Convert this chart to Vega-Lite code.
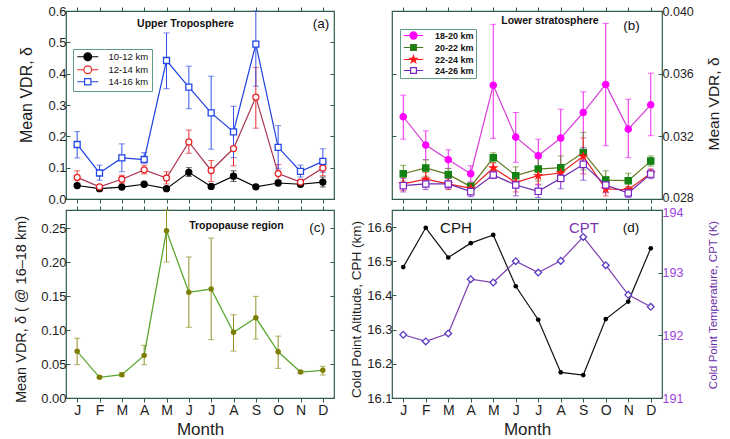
{
  "$schema": "https://vega.github.io/schema/vega-lite/v6.json",
  "background": "white",
  "padding": {"left": 12, "top": 4, "right": 4, "bottom": 2},
  "config": {
    "font": "Liberation Sans",
    "view": {"stroke": "#2f5d4a", "strokeWidth": 1.2},
    "axis": {"domain": false, "grid": false, "tickColor": "#2f5d4a", "tickWidth": 1, "labelColor": "#1e1e1e", "titleColor": "#1e1e1e", "titleFontWeight": "normal", "labelFont": "Liberation Sans", "titleFont": "Liberation Sans"},
    "text": {"font": "Liberation Sans"}
  },
  "datasets": {
    "ut": [
      {"m":1,"s":"10-12 km","v":0.043,"lo":0.038,"hi":0.048},
      {"m":2,"s":"10-12 km","v":0.033,"lo":0.029,"hi":0.037},
      {"m":3,"s":"10-12 km","v":0.038,"lo":0.034,"hi":0.042},
      {"m":4,"s":"10-12 km","v":0.047,"lo":0.042,"hi":0.052},
      {"m":5,"s":"10-12 km","v":0.033,"lo":0.029,"hi":0.037},
      {"m":6,"s":"10-12 km","v":0.085,"lo":0.072,"hi":0.100},
      {"m":7,"s":"10-12 km","v":0.040,"lo":0.035,"hi":0.045},
      {"m":8,"s":"10-12 km","v":0.073,"lo":0.056,"hi":0.090},
      {"m":9,"s":"10-12 km","v":0.039,"lo":0.035,"hi":0.043},
      {"m":10,"s":"10-12 km","v":0.051,"lo":0.044,"hi":0.060},
      {"m":11,"s":"10-12 km","v":0.047,"lo":0.042,"hi":0.052},
      {"m":12,"s":"10-12 km","v":0.054,"lo":0.038,"hi":0.070},
      {"m":1,"s":"12-14 km","v":0.069,"lo":0.050,"hi":0.090},
      {"m":2,"s":"12-14 km","v":0.039,"lo":0.035,"hi":0.043},
      {"m":3,"s":"12-14 km","v":0.063,"lo":0.050,"hi":0.076},
      {"m":4,"s":"12-14 km","v":0.093,"lo":0.080,"hi":0.108},
      {"m":5,"s":"12-14 km","v":0.067,"lo":0.048,"hi":0.087},
      {"m":6,"s":"12-14 km","v":0.182,"lo":0.146,"hi":0.220},
      {"m":7,"s":"12-14 km","v":0.091,"lo":0.056,"hi":0.123},
      {"m":8,"s":"12-14 km","v":0.161,"lo":0.106,"hi":0.216},
      {"m":9,"s":"12-14 km","v":0.325,"lo":0.226,"hi":0.420},
      {"m":10,"s":"12-14 km","v":0.081,"lo":0.058,"hi":0.110},
      {"m":11,"s":"12-14 km","v":0.054,"lo":0.046,"hi":0.062},
      {"m":12,"s":"12-14 km","v":0.099,"lo":0.074,"hi":0.126},
      {"m":1,"s":"14-16 km","v":0.174,"lo":0.131,"hi":0.215},
      {"m":2,"s":"14-16 km","v":0.083,"lo":0.060,"hi":0.108},
      {"m":3,"s":"14-16 km","v":0.131,"lo":0.087,"hi":0.176},
      {"m":4,"s":"14-16 km","v":0.126,"lo":0.115,"hi":0.148},
      {"m":5,"s":"14-16 km","v":0.442,"lo":0.352,"hi":0.530},
      {"m":6,"s":"14-16 km","v":0.357,"lo":0.288,"hi":0.424},
      {"m":7,"s":"14-16 km","v":0.275,"lo":0.159,"hi":0.392},
      {"m":8,"s":"14-16 km","v":0.214,"lo":0.132,"hi":0.296},
      {"m":9,"s":"14-16 km","v":0.494,"lo":0.360,"hi":0.600},
      {"m":10,"s":"14-16 km","v":0.165,"lo":0.096,"hi":0.234},
      {"m":11,"s":"14-16 km","v":0.088,"lo":0.070,"hi":0.108},
      {"m":12,"s":"14-16 km","v":0.120,"lo":0.085,"hi":0.160}
    ],
    "ls": [
      {"m":1,"s":"18-20 km","v":0.03325,"lo":0.03182,"hi":0.03463},
      {"m":2,"s":"18-20 km","v":0.03144,"lo":0.03051,"hi":0.03235},
      {"m":3,"s":"18-20 km","v":0.03051,"lo":0.02995,"hi":0.03114},
      {"m":4,"s":"18-20 km","v":0.02961,"lo":0.02910,"hi":0.03012},
      {"m":5,"s":"18-20 km","v":0.03526,"lo":0.03187,"hi":0.03915},
      {"m":6,"s":"18-20 km","v":0.03195,"lo":0.03034,"hi":0.03352},
      {"m":7,"s":"18-20 km","v":0.03076,"lo":0.02838,"hi":0.03182},
      {"m":8,"s":"18-20 km","v":0.03189,"lo":0.02917,"hi":0.03373},
      {"m":9,"s":"18-20 km","v":0.03352,"lo":0.03097,"hi":0.03484},
      {"m":10,"s":"18-20 km","v":0.03531,"lo":0.03140,"hi":0.03921},
      {"m":11,"s":"18-20 km","v":0.03246,"lo":0.03063,"hi":0.03437},
      {"m":12,"s":"18-20 km","v":0.03401,"lo":0.03204,"hi":0.03603},
      {"m":1,"s":"20-22 km","v":0.02961,"lo":0.02915,"hi":0.03015},
      {"m":2,"s":"20-22 km","v":0.02998,"lo":0.02945,"hi":0.03050},
      {"m":3,"s":"20-22 km","v":0.02957,"lo":0.02915,"hi":0.02995},
      {"m":4,"s":"20-22 km","v":0.02879,"lo":0.02858,"hi":0.02905},
      {"m":5,"s":"20-22 km","v":0.03063,"lo":0.03033,"hi":0.03095},
      {"m":6,"s":"20-22 km","v":0.02949,"lo":0.02905,"hi":0.03005},
      {"m":7,"s":"20-22 km","v":0.02991,"lo":0.02915,"hi":0.03060},
      {"m":8,"s":"20-22 km","v":0.03000,"lo":0.02935,"hi":0.03075},
      {"m":9,"s":"20-22 km","v":0.03097,"lo":0.02985,"hi":0.03225},
      {"m":10,"s":"20-22 km","v":0.02921,"lo":0.02865,"hi":0.02980},
      {"m":11,"s":"20-22 km","v":0.02917,"lo":0.02875,"hi":0.02965},
      {"m":12,"s":"20-22 km","v":0.03042,"lo":0.03010,"hi":0.03075},
      {"m":1,"s":"22-24 km","v":0.02896,"lo":0.02855,"hi":0.02940},
      {"m":2,"s":"22-24 km","v":0.02927,"lo":0.02890,"hi":0.02970},
      {"m":3,"s":"22-24 km","v":0.02896,"lo":0.02860,"hi":0.02930},
      {"m":4,"s":"22-24 km","v":0.02868,"lo":0.02845,"hi":0.02890},
      {"m":5,"s":"22-24 km","v":0.02998,"lo":0.02970,"hi":0.03030},
      {"m":6,"s":"22-24 km","v":0.02906,"lo":0.02845,"hi":0.02960},
      {"m":7,"s":"22-24 km","v":0.02949,"lo":0.02895,"hi":0.03000},
      {"m":8,"s":"22-24 km","v":0.02966,"lo":0.02910,"hi":0.03020},
      {"m":9,"s":"22-24 km","v":0.03072,"lo":0.02960,"hi":0.03190},
      {"m":10,"s":"22-24 km","v":0.02864,"lo":0.02820,"hi":0.02910},
      {"m":11,"s":"22-24 km","v":0.02859,"lo":0.02835,"hi":0.02880},
      {"m":12,"s":"22-24 km","v":0.02964,"lo":0.02940,"hi":0.02990},
      {"m":1,"s":"24-26 km","v":0.02885,"lo":0.02845,"hi":0.02930},
      {"m":2,"s":"24-26 km","v":0.02896,"lo":0.02860,"hi":0.02930},
      {"m":3,"s":"24-26 km","v":0.02896,"lo":0.02865,"hi":0.02930},
      {"m":4,"s":"24-26 km","v":0.02847,"lo":0.02815,"hi":0.02880},
      {"m":5,"s":"24-26 km","v":0.02953,"lo":0.02930,"hi":0.02980},
      {"m":6,"s":"24-26 km","v":0.02889,"lo":0.02820,"hi":0.02960},
      {"m":7,"s":"24-26 km","v":0.02849,"lo":0.02810,"hi":0.02890},
      {"m":8,"s":"24-26 km","v":0.02932,"lo":0.02865,"hi":0.03010},
      {"m":9,"s":"24-26 km","v":0.03021,"lo":0.02920,"hi":0.03130},
      {"m":10,"s":"24-26 km","v":0.02889,"lo":0.02840,"hi":0.02940},
      {"m":11,"s":"24-26 km","v":0.02838,"lo":0.02810,"hi":0.02870},
      {"m":12,"s":"24-26 km","v":0.02959,"lo":0.02930,"hi":0.02990}
    ],
    "tp": [
      {"m":1,"v":0.0686,"lo":0.049,"hi":0.088},
      {"m":2,"v":0.0304,"lo":0.029,"hi":0.032},
      {"m":3,"v":0.0343,"lo":0.032,"hi":0.037},
      {"m":4,"v":0.0627,"lo":0.049,"hi":0.0775},
      {"m":5,"v":0.246,"lo":0.200,"hi":0.2765},
      {"m":6,"v":0.1554,"lo":0.104,"hi":0.2074},
      {"m":7,"v":0.1603,"lo":0.0858,"hi":0.2353},
      {"m":8,"v":0.0966,"lo":0.069,"hi":0.1225},
      {"m":9,"v":0.118,"lo":0.0868,"hi":0.1495},
      {"m":10,"v":0.068,"lo":0.0436,"hi":0.091},
      {"m":11,"v":0.0382,"lo":0.036,"hi":0.0405},
      {"m":12,"v":0.0407,"lo":0.034,"hi":0.0466}
    ],
    "cp": [
      {"m":1,"cph":16.483,"cpt":192.009},
      {"m":2,"cph":16.598,"cpt":191.903},
      {"m":3,"cph":16.511,"cpt":192.03},
      {"m":4,"cph":16.553,"cpt":192.896},
      {"m":5,"cph":16.577,"cpt":192.843},
      {"m":6,"cph":16.427,"cpt":193.183},
      {"m":7,"cph":16.329,"cpt":193.002},
      {"m":8,"cph":16.175,"cpt":193.188},
      {"m":9,"cph":16.167,"cpt":193.57},
      {"m":10,"cph":16.331,"cpt":193.119},
      {"m":11,"cph":16.382,"cpt":192.646},
      {"m":12,"cph":16.538,"cpt":192.455}
    ]
  },
  "columns": 2,
  "spacing": {"row": 11, "column": 58},
  "bounds": "flush",
  "resolve": {"scale": {"color": "independent", "stroke": "independent", "fill": "independent", "shape": "independent"}},
  "concat": [
    {
      "width": 268, "height": 188,
      "data": {"name": "ut"},
      "resolve": {"axis": {"x": "independent", "y": "independent"}, "scale": {"color": "independent", "fill": "independent", "shape": "independent"}},
      "layer": [
        {
          "mark": {"type": "point", "clip": true, "filled": false, "size": 49, "strokeWidth": 1.2},
          "encoding": {
            "x": {"field": "m", "type": "quantitative", "scale": {"domain": [0.5, 12.5], "nice": false, "zero": false}, "axis": null},
            "y": {"datum": -1, "scale": {"domain": [0, 0.6], "nice": false, "zero": false}, "axis": null},
            "color": {"field": "s", "type": "nominal", "scale": {"domain": ["10-12 km","12-14 km","14-16 km"], "range": ["#000000","#e8262a","#2446e6"]},
                      "legend": {"title": null, "orient": "none", "legendX": 7, "legendY": 38, "strokeColor": "#5f9c86", "fillColor": "#ffffff", "padding": 3,
                                 "labelFontSize": 9.5, "labelColor": "#111111", "symbolSize": 49, "symbolStrokeWidth": 1.2, "symbolOpacity": 1, "symbolOffset": 7, "labelOffset": 16, "rowPadding": 0}},
            "fill": {"field": "s", "type": "nominal", "scale": {"domain": ["10-12 km","12-14 km","14-16 km"], "range": ["#000000","#ffffff","#ffffff"]}},
            "shape": {"field": "s", "type": "nominal", "scale": {"domain": ["10-12 km","12-14 km","14-16 km"], "range": [
              "M-3,0L-1.1,0M1.1,0L3,0M-1.1,0A1.1,1.1 0 1,0 1.1,0A1.1,1.1 0 1,0 -1.1,0Z",
              "M-3,0L-1.1,0M1.1,0L3,0M-1.1,0A1.1,1.1 0 1,0 1.1,0A1.1,1.1 0 1,0 -1.1,0Z",
              "M-3,0L-0.9,0M0.9,0L3,0M-0.9,-0.9L0.9,-0.9L0.9,0.9L-0.9,0.9Z"]}}
          }
        },
        {
          "mark": {"type": "errorbar", "ticks": {"size": 6}, "thickness": 1},
          "encoding": {
            "x": {"field": "m", "type": "quantitative",
                  "axis": {"values": [1,2,3,4,5,6,7,8,9,10,11,12], "labels": false, "title": null, "tickSize": 4}},
            "y": {"field": "lo", "type": "quantitative",
                  "axis": {"values": [0,0.1,0.2,0.3,0.4,0.5,0.6], "format": ".1f", "labelFontSize": 13, "tickSize": -4, "labelPadding": 4,
                           "title": "Mean VDR, δ", "titleFontSize": 16, "titleX": -40, "titleY": 83.5, "titleBaseline": "middle", "titleAngle": 270}},
            "y2": {"field": "hi"},
            "color": {"field": "s", "type": "nominal", "scale": {"domain": ["10-12 km","12-14 km","14-16 km"], "range": ["#222222","#e8262a","#3553ea"]}, "legend": null}
          }
        },
        {
          "mark": {"type": "line", "strokeWidth": 1.2},
          "encoding": {
            "x": {"field": "m", "type": "quantitative", "axis": {"orient": "top", "values": [1,2,3,4,5,6,7,8,9,10,11,12], "labels": false, "title": null, "tickSize": 4}},
            "y": {"field": "v", "type": "quantitative", "axis": {"orient": "right", "values": [0,0.1,0.2,0.3,0.4,0.5,0.6], "labels": false, "title": null, "tickSize": -4}},
            "stroke": {"field": "s", "type": "nominal", "scale": {"domain": ["10-12 km","12-14 km","14-16 km"], "range": ["#000000","#a8344e","#1f3fe0"]}, "legend": null}
          }
        },
        {
          "mark": {"type": "point", "filled": false, "size": 36, "strokeWidth": 1.3, "opacity": 1},
          "encoding": {
            "x": {"field": "m", "type": "quantitative", "axis": null},
            "y": {"field": "v", "type": "quantitative", "axis": null},
            "color": {"field": "s", "type": "nominal", "scale": {"domain": ["10-12 km","12-14 km","14-16 km"], "range": ["#000000","#e8262a","#2446e6"]}, "legend": null},
            "fill": {"field": "s", "type": "nominal", "scale": {"domain": ["10-12 km","12-14 km","14-16 km"], "range": ["#000000","#ffffff","#ffffff"]}, "legend": null},
            "shape": {"field": "s", "type": "nominal", "scale": {"domain": ["10-12 km","12-14 km","14-16 km"], "range": ["circle","circle","square"]}, "legend": null}
          }
        },
        {
          "data": {"values": [{}]},
          "mark": {"type": "text", "text": "Upper Troposphere", "fontWeight": "bold", "fontSize": 10.5, "color": "#111111"},
          "encoding": {"x": {"datum": 5.85, "axis": null}, "y": {"datum": 0.5585, "axis": null}}
        },
        {
          "data": {"values": [{}]},
          "mark": {"type": "text", "text": "(a)", "fontSize": 13.5, "color": "#111111"},
          "encoding": {"x": {"datum": 11.92, "axis": null}, "y": {"datum": 0.5585, "axis": null}}
        }
      ]
    },
    {
      "width": 270, "height": 188,
      "data": {"name": "ls"},
      "resolve": {"axis": {"x": "independent", "y": "independent"}, "scale": {"color": "independent", "fill": "independent", "shape": "independent"}},
      "layer": [
        {
          "mark": {"type": "point", "clip": true, "filled": false, "size": 42, "strokeWidth": 1.2},
          "encoding": {
            "x": {"field": "m", "type": "quantitative", "scale": {"domain": [0.5, 12.5], "nice": false, "zero": false}, "axis": null},
            "y": {"datum": 0.02, "scale": {"domain": [0.028, 0.040], "nice": false, "zero": false}, "axis": null},
            "color": {"field": "s", "type": "nominal", "scale": {"domain": ["18-20 km","20-22 km","22-24 km","24-26 km"], "range": ["#ff00ff","#3f7a1e","#ff1a1a","#7a22c8"]},
                      "legend": {"title": null, "orient": "none", "legendX": 8, "legendY": 18, "strokeColor": "#5f9c86", "fillColor": "#ffffff", "padding": 2,
                                 "labelFontSize": 9, "labelFontWeight": "bold", "labelColor": "#111111", "symbolSize": 42, "symbolStrokeWidth": 1.2, "symbolOpacity": 1, "symbolOffset": 7, "labelOffset": 17, "rowPadding": 0}},
            "fill": {"field": "s", "type": "nominal", "scale": {"domain": ["18-20 km","20-22 km","22-24 km","24-26 km"], "range": ["#ff00ff","#128212","#ff1a1a","#ffffff"]}},
            "shape": {"field": "s", "type": "nominal", "scale": {"domain": ["18-20 km","20-22 km","22-24 km","24-26 km"], "range": [
              "M-3,0L-1.1,0M1.1,0L3,0M-1.1,0A1.1,1.1 0 1,0 1.1,0A1.1,1.1 0 1,0 -1.1,0Z",
              "M-3,0L-0.9,0M0.9,0L3,0M-0.9,-0.9L0.9,-0.9L0.9,0.9L-0.9,0.9Z",
              "M-3,0L-1,0M1,0L3,0M0,-1.15L0.27,-0.37L1.09,-0.36L0.44,0.14L0.68,0.93L0,0.46L-0.68,0.93L-0.44,0.14L-1.09,-0.36L-0.27,-0.37Z",
              "M-3,0L-0.9,0M0.9,0L3,0M-0.9,-0.9L0.9,-0.9L0.9,0.9L-0.9,0.9Z"]}}
          }
        },
        {
          "mark": {"type": "errorbar", "ticks": {"size": 6}, "thickness": 1},
          "encoding": {
            "x": {"field": "m", "type": "quantitative",
                  "axis": {"values": [1,2,3,4,5,6,7,8,9,10,11,12], "labels": false, "title": null, "tickSize": 4}},
            "y": {"field": "lo", "type": "quantitative",
                  "axis": {"orient": "right", "values": [0.028,0.032,0.036,0.040], "format": ".3f", "labelFontSize": 12.5, "tickSize": -4, "labelPadding": 4,
                           "labelOffset": {"condition": {"test": "datum.value < 0.029", "value": -1.5}, "value": 0},
                           "title": "Mean VDR, δ", "titleFontSize": 15.5, "titleX": 51, "titleY": 92.5, "titleBaseline": "middle", "titleAngle": 270}},
            "y2": {"field": "hi"},
            "color": {"field": "s", "type": "nominal", "scale": {"domain": ["18-20 km","20-22 km","22-24 km","24-26 km"], "range": ["#f020f0","#5f8a2a","#ff3030","#8030d0"]}, "legend": null}
          }
        },
        {
          "mark": {"type": "line", "strokeWidth": 1.2},
          "encoding": {
            "x": {"field": "m", "type": "quantitative", "axis": {"orient": "top", "values": [1,2,3,4,5,6,7,8,9,10,11,12], "labels": false, "title": null, "tickSize": 4}},
            "y": {"field": "v", "type": "quantitative", "axis": {"orient": "left", "values": [0.028,0.032,0.036,0.040], "labels": false, "title": null, "tickSize": -4}},
            "stroke": {"field": "s", "type": "nominal", "scale": {"domain": ["18-20 km","20-22 km","22-24 km","24-26 km"], "range": ["#d83cd8","#5e7a1e","#e82020","#6a2ab0"]}, "legend": null}
          }
        },
        {
          "mark": {"type": "point", "filled": false, "size": 40, "strokeWidth": 1.2, "opacity": 1},
          "encoding": {
            "x": {"field": "m", "type": "quantitative", "axis": null},
            "y": {"field": "v", "type": "quantitative", "axis": null},
            "color": {"field": "s", "type": "nominal", "scale": {"domain": ["18-20 km","20-22 km","22-24 km","24-26 km"], "range": ["#ff00ff","#128212","#ff1a1a","#7a22c8"]}, "legend": null},
            "fill": {"field": "s", "type": "nominal", "scale": {"domain": ["18-20 km","20-22 km","22-24 km","24-26 km"], "range": ["#ff00ff","#128212","#ff1a1a","#ffffff"]}, "legend": null},
            "shape": {"field": "s", "type": "nominal", "scale": {"domain": ["18-20 km","20-22 km","22-24 km","24-26 km"], "range": ["circle","square","M0,-1.15L0.27,-0.37L1.09,-0.36L0.44,0.14L0.68,0.93L0,0.46L-0.68,0.93L-0.44,0.14L-1.09,-0.36L-0.27,-0.37Z","square"]}, "legend": null}
          }
        },
        {
          "data": {"values": [{}]},
          "mark": {"type": "text", "text": "Lower stratosphere", "fontWeight": "bold", "fontSize": 10.5, "color": "#111111"},
          "encoding": {"x": {"datum": 7.52, "axis": null}, "y": {"datum": 0.03936, "axis": null}}
        },
        {
          "data": {"values": [{}]},
          "mark": {"type": "text", "text": "(b)", "fontSize": 13.5, "color": "#111111"},
          "encoding": {"x": {"datum": 11.14, "axis": null}, "y": {"datum": 0.03904, "axis": null}}
        }
      ]
    },
    {
      "width": 268, "height": 188,
      "data": {"name": "tp"},
      "resolve": {"axis": {"x": "independent", "y": "independent"}},
      "layer": [
        {
          "mark": {"type": "errorbar", "ticks": {"size": 6}, "thickness": 1, "color": "#8f8f22"},
          "encoding": {
            "x": {"field": "m", "type": "quantitative", "scale": {"domain": [0.5, 12.5], "nice": false, "zero": false},
                  "axis": {"values": [1,2,3,4,5,6,7,8,9,10,11,12], "labelExpr": "['J','F','M','A','M','J','J','A','S','O','N','D'][datum.value-1]",
                           "labelFontSize": 14, "labelPadding": 1, "tickSize": 4, "title": "Month", "titleFontSize": 17, "titleY": 31, "titleBaseline": "middle"}},
            "y": {"field": "lo", "type": "quantitative", "scale": {"domain": [0, 0.2765], "nice": false, "zero": false},
                  "axis": {"values": [0,0.05,0.1,0.15,0.2,0.25], "format": ".2f", "labelFontSize": 13, "tickSize": -4, "labelPadding": 4,
                           "title": "Mean VDR, δ ( @ 16–18 km)", "titleFontSize": 14.5, "titleX": -45, "titleY": 99, "titleBaseline": "middle", "titleAngle": 270}},
            "y2": {"field": "hi"}
          }
        },
        {
          "mark": {"type": "line", "strokeWidth": 1.3, "color": "#5aa832"},
          "encoding": {
            "x": {"field": "m", "type": "quantitative", "axis": {"orient": "top", "values": [1,2,3,4,5,6,7,8,9,10,11,12], "labels": false, "title": null, "tickSize": 4}},
            "y": {"field": "v", "type": "quantitative", "axis": {"orient": "right", "values": [0,0.05,0.1,0.15,0.2,0.25], "labels": false, "title": null, "tickSize": -4}}
          }
        },
        {
          "mark": {"type": "point", "filled": true, "size": 30, "color": "#7d7d00", "opacity": 1},
          "encoding": {
            "x": {"field": "m", "type": "quantitative", "axis": null},
            "y": {"field": "v", "type": "quantitative", "axis": null}
          }
        },
        {
          "data": {"values": [{}]},
          "mark": {"type": "text", "text": "Tropopause region", "fontWeight": "bold", "fontSize": 10.5, "color": "#111111"},
          "encoding": {"x": {"datum": 8.13, "axis": null}, "y": {"datum": 0.2529, "axis": null}}
        },
        {
          "data": {"values": [{}]},
          "mark": {"type": "text", "text": "(c)", "fontSize": 13.5, "color": "#111111"},
          "encoding": {"x": {"datum": 11.74, "axis": null}, "y": {"datum": 0.25, "axis": null}}
        }
      ]
    },
    {
      "width": 270, "height": 188,
      "data": {"name": "cp"},
      "resolve": {"scale": {"y": "independent"}, "axis": {"x": "independent", "y": "independent"}},
      "layer": [
        {
          "mark": {"type": "line", "strokeWidth": 1.2, "color": "#111111"},
          "encoding": {
            "x": {"field": "m", "type": "quantitative", "scale": {"domain": [0.5, 12.5], "nice": false, "zero": false},
                  "axis": {"values": [1,2,3,4,5,6,7,8,9,10,11,12], "labelExpr": "['J','F','M','A','M','J','J','A','S','O','N','D'][datum.value-1]",
                           "labelFontSize": 14, "labelPadding": 1, "tickSize": 4, "title": "Month", "titleFontSize": 17, "titleY": 31, "titleBaseline": "middle"}},
            "y": {"field": "cph", "type": "quantitative", "scale": {"domain": [16.1, 16.65], "nice": false, "zero": false},
                  "axis": {"orient": "left", "values": [16.1,16.2,16.3,16.4,16.5,16.6], "format": ".1f", "labelFontSize": 13, "tickSize": -4, "labelPadding": 4,
                           "title": "Cold Point Altitude, CPH (km)", "titleFontSize": 13.5, "titleX": -36, "titleY": 99, "titleBaseline": "middle", "titleAngle": 270}}
          }
        },
        {
          "mark": {"type": "point", "filled": true, "size": 22, "color": "#000000", "opacity": 1},
          "encoding": {
            "x": {"field": "m", "type": "quantitative", "axis": null},
            "y": {"field": "cph", "type": "quantitative", "scale": {"domain": [16.1, 16.65], "nice": false, "zero": false}, "axis": null}
          }
        },
        {
          "data": {"values": [{}]},
          "mark": {"type": "text", "text": "CPH", "fontSize": 15, "color": "#111111"},
          "encoding": {"x": {"datum": 3.34, "axis": null}, "y": {"datum": 16.597, "scale": {"domain": [16.1, 16.65], "nice": false, "zero": false}, "axis": null}}
        },
        {
          "data": {"values": [{}]},
          "mark": {"type": "text", "text": "CPT", "fontSize": 15, "color": "#7a32b0"},
          "encoding": {"x": {"datum": 9.03, "axis": null}, "y": {"datum": 16.597, "scale": {"domain": [16.1, 16.65], "nice": false, "zero": false}, "axis": null}}
        },
        {
          "data": {"values": [{}]},
          "mark": {"type": "text", "text": "(d)", "fontSize": 13.5, "color": "#111111"},
          "encoding": {"x": {"datum": 11.12, "axis": null}, "y": {"datum": 16.597, "scale": {"domain": [16.1, 16.65], "nice": false, "zero": false}, "axis": null}}
        },
        {
          "mark": {"type": "line", "strokeWidth": 1.2, "color": "#7c3fae"},
          "encoding": {
            "x": {"field": "m", "type": "quantitative", "axis": {"orient": "top", "values": [1,2,3,4,5,6,7,8,9,10,11,12], "labels": false, "title": null, "tickSize": 4}},
            "y": {"field": "cpt", "type": "quantitative", "scale": {"domain": [191, 194], "nice": false, "zero": false},
                  "axis": {"orient": "right", "values": [191,192,193,194], "format": "d", "labelFontSize": 12.5, "labelColor": "#9d44dc", "tickSize": -4, "labelPadding": 4,
                           "labelOffset": {"condition": {"test": "datum.value > 193.5", "value": 2}, "value": 0},
                           "title": "Cold Point Temperature, CPT (K)", "titleColor": "#6b2fa8", "titleFontSize": 11.5, "titleX": 51, "titleY": 94.5, "titleBaseline": "middle", "titleAngle": 270}}
          }
        },
        {
          "mark": {"type": "point", "filled": false, "shape": "diamond", "size": 45, "strokeWidth": 1.3, "color": "#5a3cc4", "fill": "#ffffff", "opacity": 1},
          "encoding": {
            "x": {"field": "m", "type": "quantitative", "axis": null},
            "y": {"field": "cpt", "type": "quantitative", "scale": {"domain": [191, 194], "nice": false, "zero": false}, "axis": null}
          }
        }
      ]
    }
  ]
}
